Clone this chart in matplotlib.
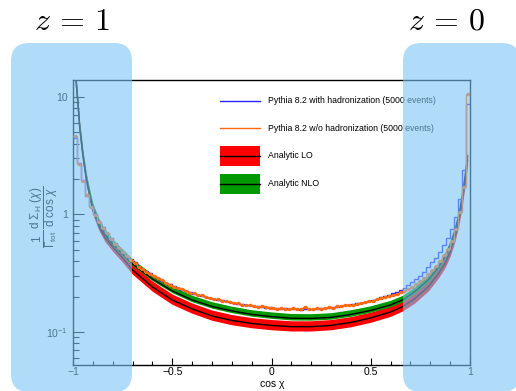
import numpy as np
import matplotlib
matplotlib.use("Agg")
import matplotlib.pyplot as plt
from matplotlib.patches import FancyBboxPatch, Rectangle
from matplotlib.lines import Line2D
from matplotlib.ticker import FixedLocator, FixedFormatter, NullFormatter

plt.rcParams['font.family'] = ['Liberation Sans', 'DejaVu Sans']
plt.rcParams['mathtext.fontset'] = 'custom'
plt.rcParams['mathtext.rm'] = 'Liberation Sans'
plt.rcParams['mathtext.it'] = 'Liberation Sans:italic'
plt.rcParams['mathtext.bf'] = 'Liberation Sans:bold'

#-------------------------------------------------------------
# data
# analytic curves: cos(chi) and value
curve_x = [-0.985, -0.975, -0.966, -0.95, -0.933, -0.915, -0.9, -0.87, -0.84,
           -0.8, -0.75, -0.7, -0.6, -0.5, -0.4, -0.3, -0.2, -0.1, 0.0, 0.1,
           0.2, 0.3, 0.4, 0.5, 0.6, 0.66, 0.72, 0.79, 0.84, 0.875, 0.9,
           0.925, 0.945, 0.96, 0.975, 0.988]
lo_y = [13.95, 8.72, 5.45, 3.15, 1.97, 1.41, 1.09, 0.798, 0.643,
        0.529, 0.426, 0.337, 0.2415, 0.187, 0.157, 0.1368, 0.1253, 0.1181,
        0.1136, 0.1109, 0.1109, 0.1136, 0.1205, 0.1316, 0.148, 0.1642,
        0.191, 0.243, 0.3115, 0.3843, 0.48, 0.647, 0.898, 1.253, 1.89, 2.91]
nlo_y = [13.95, 8.72, 5.45, 3.21, 2.045, 1.466, 1.136, 0.847, 0.682,
         0.561, 0.461, 0.379, 0.2826, 0.2234, 0.187, 0.1648, 0.151, 0.1409,
         0.135, 0.1308, 0.1304, 0.1329, 0.1409, 0.1524, 0.1697, 0.187,
         0.219, 0.277, 0.354, 0.4375, 0.55, 0.738, 1.01, 1.41, 2.127, 3.15]
# scale-variation bands, relative (dex) below / above the central line
lo_band = (-0.037, 0.05)
nlo_band = (-0.015, 0.04)

# Pythia histograms, 100 bins in cos(chi) from -1 to 1
pythia_had = [4.5, 2.75, 1.95, 1.45, 1.18, 1.0, 0.86, 0.78, 0.70, 0.63,
              0.57, 0.52, 0.48, 0.445, 0.415, 0.39, 0.365, 0.345, 0.33, 0.315,
              0.30, 0.285, 0.272, 0.262, 0.255, 0.245, 0.236, 0.228, 0.223, 0.218,
              0.212, 0.208, 0.203, 0.199, 0.196, 0.192, 0.188, 0.186, 0.182, 0.180,
              0.178, 0.174, 0.172, 0.171, 0.168, 0.166, 0.165, 0.163, 0.161, 0.162,
              0.160, 0.159, 0.158, 0.160, 0.157, 0.156, 0.158, 0.155, 0.157, 0.156,
              0.158, 0.157, 0.159, 0.160, 0.161, 0.163, 0.164, 0.166, 0.168, 0.170,
              0.172, 0.175, 0.178, 0.181, 0.184, 0.188, 0.192, 0.197, 0.202, 0.207,
              0.213, 0.220, 0.228, 0.238, 0.250, 0.265, 0.282, 0.300, 0.325, 0.355,
              0.39, 0.43, 0.48, 0.55, 0.63, 0.75, 0.95, 1.35, 2.4, 8.8]
pythia_nohad = [4.7, 2.7, 1.93, 1.47, 1.15, 0.98, 0.87, 0.77, 0.69, 0.62,
                0.565, 0.52, 0.475, 0.44, 0.41, 0.385, 0.36, 0.34, 0.325, 0.31,
                0.297, 0.285, 0.275, 0.262, 0.25, 0.243, 0.235, 0.23, 0.221, 0.216,
                0.213, 0.207, 0.205, 0.198, 0.195, 0.19, 0.189, 0.184, 0.183, 0.179,
                0.177, 0.176, 0.171, 0.17, 0.169, 0.165, 0.163, 0.165, 0.162, 0.16,
                0.161, 0.158, 0.16, 0.157, 0.158, 0.159, 0.156, 0.157, 0.162, 0.158,
                0.157, 0.159, 0.158, 0.16, 0.162, 0.161, 0.165, 0.165, 0.168, 0.169,
                0.171, 0.174, 0.176, 0.179, 0.182, 0.185, 0.189, 0.193, 0.197, 0.201,
                0.206, 0.211, 0.217, 0.223, 0.232, 0.243, 0.256, 0.27, 0.288, 0.31,
                0.335, 0.365, 0.40, 0.45, 0.51, 0.60, 0.75, 1.05, 1.7, 10.7]

legend_labels = ["Pythia 8.2 with hadronization (5000 events)",
                 "Pythia 8.2 w/o hadronization (5000 events)",
                 "Analytic LO",
                 "Analytic NLO"]
region_labels = [r"$z\,=\,1$", r"$z\,=\,0$"]

#-------------------------------------------------------------
W, H = 516, 391


def fx(px):
    return px / W


def fy(py):
    return (H - py) / H


fig = plt.figure(figsize=(W / 100, H / 100), dpi=100)
ax = fig.add_axes([fx(73), fy(365), fx(470) - fx(73), fy(80) - fy(365)])

RED = "#ff0000"
GREEN = "#009900"
BLUE = "#2a22ff"
ORANGE = "#ff6a10"

cx = np.array(curve_x)
lo = np.array(lo_y)
nlo = np.array(nlo_y)

ax.fill_between(cx, lo * 10 ** lo_band[0], lo * 10 ** lo_band[1],
                color=RED, lw=0, zorder=2)
ax.fill_between(cx, nlo * 10 ** nlo_band[0], nlo * 10 ** nlo_band[1],
                color=GREEN, lw=0, zorder=3)
ax.plot(cx, lo, color="black", lw=1.0, zorder=4)
ax.plot(cx, nlo, color="black", lw=1.0, zorder=4)

edges = np.linspace(-1, 1, len(pythia_had) + 1)
centers = 0.5 * (edges[1:] + edges[:-1])
ax.stairs(pythia_had, edges, baseline=None, color=BLUE, lw=1.0, zorder=5)
ax.stairs(pythia_nohad, edges, baseline=None, color=ORANGE, lw=1.0, zorder=6)
ax.plot(centers, pythia_nohad, ls="none", marker="s", ms=1.4,
        color=ORANGE, mec=ORANGE, zorder=6)

ax.set_yscale("log")
ax.set_xlim(-1, 1)
ax.set_ylim(0.0523, 13.95)

# ticks, ROOT style
ax.xaxis.set_major_locator(FixedLocator([-1, -0.5, 0, 0.5, 1]))
ax.xaxis.set_minor_locator(FixedLocator(np.arange(-0.9, 1.0, 0.1)))
ax.set_xticklabels(["\u22121", "\u22120.5", "0", "0.5", "1"])
ax.yaxis.set_major_locator(FixedLocator([0.1, 1, 10]))
ax.yaxis.set_major_formatter(FixedFormatter([r"$10^{-1}$", "1", "10"]))
yminor = [m * d for d in (0.01, 0.1, 1) for m in range(2, 10)]
ax.yaxis.set_minor_locator(FixedLocator(yminor))
ax.yaxis.set_minor_formatter(NullFormatter())
ax.tick_params(axis="x", which="major", direction="in", length=5, width=0.8,
               labelsize=7.5, pad=1.5, top=False)
ax.tick_params(axis="x", which="minor", direction="in", length=2.8, width=0.8,
               top=False)
ax.tick_params(axis="y", which="major", direction="in", length=8, width=0.8,
               labelsize=7.5, pad=3.5, right=False)
ax.tick_params(axis="y", which="minor", direction="in", length=4.3, width=0.8,
               right=False)
for s in ax.spines.values():
    s.set_linewidth(1.0)

ax.set_xlabel("cos \u03c7", fontsize=7.5)
ax.xaxis.set_label_coords(0.501, -0.050)
ax.set_ylabel(r"$\dfrac{1}{\Gamma_{\rm tot}}\,\dfrac{{\rm d}\ \Sigma_{\rm H}\ (\chi)}{{\rm d}\ {\rm cos}\ \chi}$",
              fontsize=8.5, va="center")
ax.yaxis.set_label_coords(-0.072, 0.52)

# legend, drawn by hand in figure pixels
lx0, lx1, tx = 220, 260, 268
fig.add_artist(Line2D([fx(lx0), fx(lx1)], [fy(100.7), fy(100.7)], color=BLUE, lw=1.0))
fig.add_artist(Line2D([fx(lx0), fx(lx1)], [fy(128.3), fy(128.3)], color=ORANGE, lw=1.0))
fig.add_artist(Rectangle((fx(lx0), fy(165.7)), fx(lx1) - fx(lx0), fy(146) - fy(165.7),
                         transform=fig.transFigure, color=RED, lw=0))
fig.add_artist(Line2D([fx(lx0), fx(lx1)], [fy(156.3), fy(156.3)], color="black", lw=1.0))
fig.add_artist(Rectangle((fx(lx0), fy(193.7)), fx(lx1) - fx(lx0), fy(174.3) - fy(193.7),
                         transform=fig.transFigure, color=GREEN, lw=0))
fig.add_artist(Line2D([fx(lx0), fx(lx1)], [fy(184.3), fy(184.3)], color="black", lw=1.0))
for lab, py in zip(legend_labels, [100.7, 128.3, 155.8, 184.0]):
    fig.text(fx(tx), fy(py), lab, fontsize=6.3, va="center", ha="left")

# highlighted regions on top of the plot
for (x0, x1) in [(11, 132), (403, 520)]:
    box = FancyBboxPatch((fx(x0), fy(392)), fx(x1) - fx(x0), fy(43) - fy(392),
                         boxstyle="round,pad=0,rounding_size=0.035",
                         transform=fig.transFigure, facecolor="#7cc6f7",
                         edgecolor="none", alpha=0.6, zorder=10,
                         mutation_aspect=W / H)
    fig.add_artist(box)

fig.text(fx(72), fy(22), region_labels[0], fontsize=23, ha="center", va="center",
         math_fontfamily="cm")
fig.text(fx(446), fy(22), region_labels[1], fontsize=23, ha="center", va="center",
         math_fontfamily="cm")

fig.savefig("out.png", dpi=100)
